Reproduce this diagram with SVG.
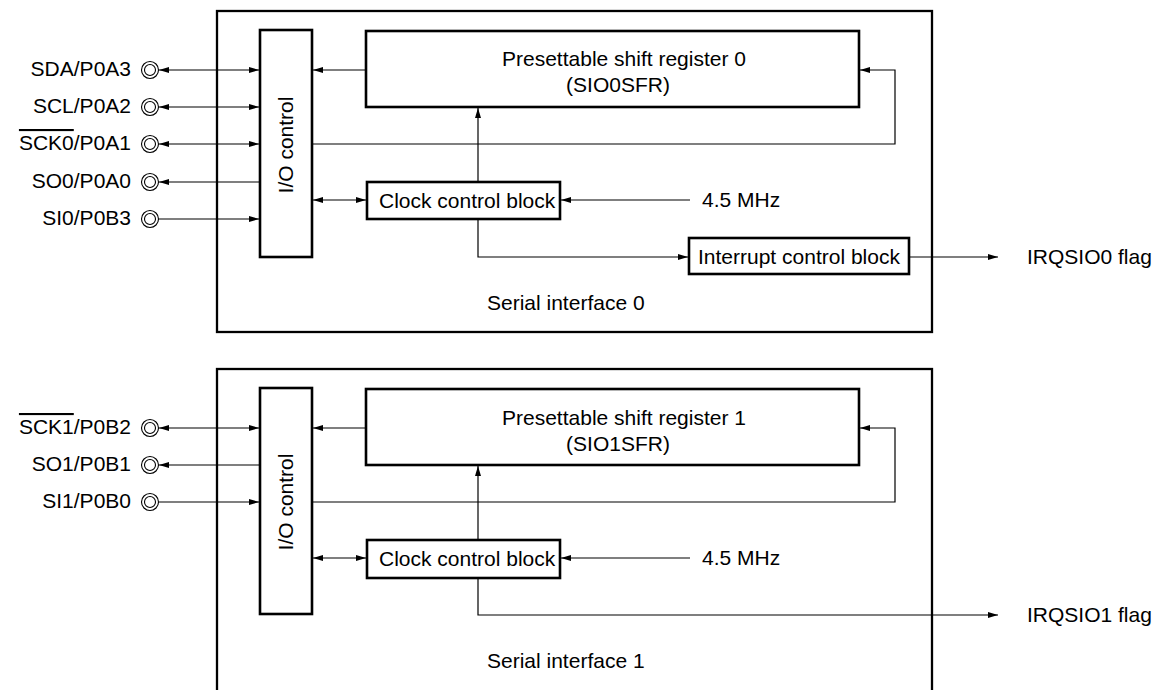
<svg xmlns="http://www.w3.org/2000/svg" width="1156" height="690" viewBox="0 0 1156 690">
<style>
text{font-family:"Liberation Sans",Arial,sans-serif;font-size:21px;fill:#000}
.box{fill:#fff;stroke:#000;stroke-width:2.6}
.outer{fill:none;stroke:#000;stroke-width:2.3}
.ln{fill:none;stroke:#000;stroke-width:1.2}
.pin{fill:#fff;stroke:#000;stroke-width:1.1}
.lbl{text-anchor:end}
.ov{text-decoration:overline}
</style>
<defs>
<marker id="ah" viewBox="0 0 10 6" refX="10" refY="3" markerWidth="10" markerHeight="6" markerUnits="userSpaceOnUse" orient="auto-start-reverse">
<path d="M0,0 L10,3 L0,6 Z" fill="#000"/>
</marker>
</defs>
<rect width="1156" height="690" fill="#fff"/>

<g id="si0">
<rect class="outer" x="217" y="11" width="715" height="321"/>
<text x="487" y="310">Serial interface 0</text>
</g>
<g id="si1">
<rect class="outer" x="217" y="369" width="715" height="340"/>
<text x="487" y="668">Serial interface 1</text>
</g>

<g id="connectors">
<line class="ln" x1="159" y1="70" x2="259" y2="70" marker-start="url(#ah)" marker-end="url(#ah)"/>
<line class="ln" x1="159" y1="107" x2="259" y2="107" marker-start="url(#ah)" marker-end="url(#ah)"/>
<line class="ln" x1="159" y1="144" x2="259" y2="144" marker-start="url(#ah)" marker-end="url(#ah)"/>
<line class="ln" x1="159" y1="182" x2="259" y2="182" marker-start="url(#ah)"/>
<line class="ln" x1="159" y1="219" x2="259" y2="219" marker-end="url(#ah)"/>
<line class="ln" x1="366" y1="70" x2="313" y2="70" marker-end="url(#ah)"/>
<polyline class="ln" points="313,144 895,144 895,70 860,70" marker-end="url(#ah)"/>
<line class="ln" x1="313" y1="200" x2="366" y2="200" marker-start="url(#ah)" marker-end="url(#ah)"/>
<line class="ln" x1="478" y1="182" x2="478" y2="108" marker-end="url(#ah)"/>
<polyline class="ln" points="478,219 478,257 688,257" marker-end="url(#ah)"/>
<line class="ln" x1="690" y1="200" x2="561" y2="200" marker-end="url(#ah)"/>
<line class="ln" x1="909" y1="257" x2="998" y2="257" marker-end="url(#ah)"/>
<line class="ln" x1="159" y1="428" x2="259" y2="428" marker-start="url(#ah)" marker-end="url(#ah)"/>
<line class="ln" x1="159" y1="465" x2="259" y2="465" marker-start="url(#ah)"/>
<line class="ln" x1="159" y1="502" x2="259" y2="502" marker-end="url(#ah)"/>
<line class="ln" x1="366" y1="428" x2="313" y2="428" marker-end="url(#ah)"/>
<polyline class="ln" points="313,502 895,502 895,428 860,428" marker-end="url(#ah)"/>
<line class="ln" x1="313" y1="558" x2="366" y2="558" marker-start="url(#ah)" marker-end="url(#ah)"/>
<line class="ln" x1="478" y1="540" x2="478" y2="466" marker-end="url(#ah)"/>
<polyline class="ln" points="478,578 478,615 998,615" marker-end="url(#ah)"/>
<line class="ln" x1="690" y1="558" x2="561" y2="558" marker-end="url(#ah)"/>
</g>

<g id="pins0">
<circle class="pin" cx="150" cy="70" r="8.5"/><circle class="pin" cx="150" cy="70" r="5.5"/>
<circle class="pin" cx="150" cy="107" r="8.5"/><circle class="pin" cx="150" cy="107" r="5.5"/>
<circle class="pin" cx="150" cy="144" r="8.5"/><circle class="pin" cx="150" cy="144" r="5.5"/>
<circle class="pin" cx="150" cy="182" r="8.5"/><circle class="pin" cx="150" cy="182" r="5.5"/>
<circle class="pin" cx="150" cy="219" r="8.5"/><circle class="pin" cx="150" cy="219" r="5.5"/>
<text class="lbl" x="131" y="76">SDA/P0A3</text>
<text class="lbl" x="131" y="113">SCL/P0A2</text>
<text class="lbl" x="131" y="150"><tspan class="ov">SCK0</tspan>/P0A1</text>
<text class="lbl" x="131" y="188">SO0/P0A0</text>
<text class="lbl" x="131" y="225">SI0/P0B3</text>
</g>
<g id="pins1">
<circle class="pin" cx="150" cy="428" r="8.5"/><circle class="pin" cx="150" cy="428" r="5.5"/>
<circle class="pin" cx="150" cy="465" r="8.5"/><circle class="pin" cx="150" cy="465" r="5.5"/>
<circle class="pin" cx="150" cy="502" r="8.5"/><circle class="pin" cx="150" cy="502" r="5.5"/>
<text class="lbl" x="131" y="434"><tspan class="ov">SCK1</tspan>/P0B2</text>
<text class="lbl" x="131" y="471">SO1/P0B1</text>
<text class="lbl" x="131" y="508">SI1/P0B0</text>
</g>

<g id="io0">
<rect class="box" x="260" y="30" width="52" height="227"/>
<text transform="translate(293,145) rotate(-90)" text-anchor="middle">I/O control</text>
</g>
<g id="sr0">
<rect class="box" x="366" y="31" width="493" height="76"/>
<text x="624" y="66" text-anchor="middle">Presettable shift register 0</text>
<text x="618" y="92" text-anchor="middle">(SIO0SFR)</text>
</g>
<g id="clk0">
<rect class="box" x="367" y="182" width="193" height="37"/>
<text x="379" y="208">Clock control block</text>
</g>
<g id="mhz0"><text x="702" y="207">4.5 MHz</text></g>
<g id="int0">
<rect class="box" x="689" y="238" width="220" height="36"/>
<text x="698" y="264">Interrupt control block</text>
</g>
<g id="irq0"><text x="1027" y="264">IRQSIO0 flag</text></g>

<g id="io1">
<rect class="box" x="260" y="388" width="52" height="226"/>
<text transform="translate(293,502) rotate(-90)" text-anchor="middle">I/O control</text>
</g>
<g id="sr1">
<rect class="box" x="366" y="389" width="493" height="76"/>
<text x="624" y="425" text-anchor="middle">Presettable shift register 1</text>
<text x="618" y="451" text-anchor="middle">(SIO1SFR)</text>
</g>
<g id="clk1">
<rect class="box" x="367" y="540" width="193" height="38"/>
<text x="379" y="566">Clock control block</text>
</g>
<g id="mhz1"><text x="702" y="565">4.5 MHz</text></g>
<g id="irq1"><text x="1027" y="622">IRQSIO1 flag</text></g>
</svg>
